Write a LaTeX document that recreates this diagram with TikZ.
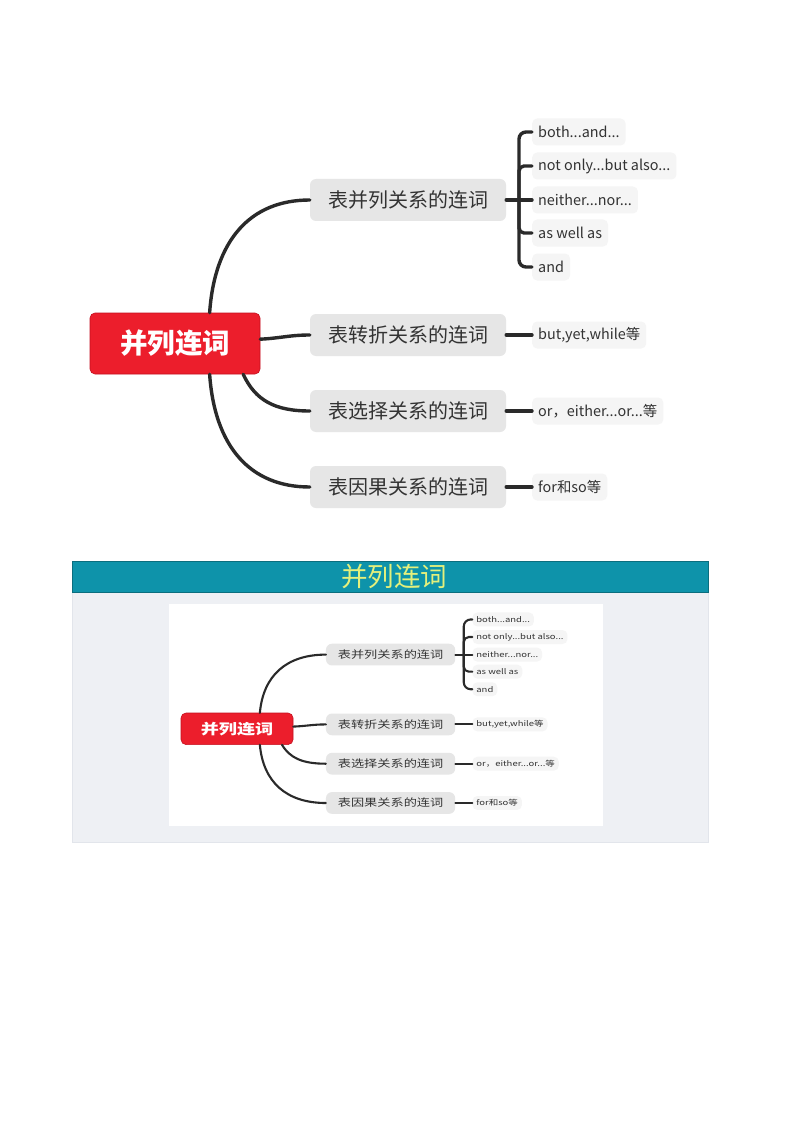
\documentclass[tikz,border=0pt]{standalone}
\usepackage{fontspec}
\setmainfont{Noto Sans CJK SC}
\newfontfamily\cjk{Noto Sans CJK SC}
\usetikzlibrary{calc}
\definecolor{rootred}{HTML}{EC1E2C}
\definecolor{rootedge}{HTML}{C41020}
\definecolor{midgray}{HTML}{E6E6E6}
\definecolor{leafgray}{HTML}{F5F5F5}
\definecolor{linecol}{HTML}{2A2A2A}
\definecolor{txtcol}{HTML}{333333}
\definecolor{headteal}{HTML}{0E93AA}
\definecolor{headedge}{HTML}{0B6E7E}
\definecolor{headtxt}{HTML}{E4F07C}
\definecolor{panelgray}{HTML}{EEF0F4}
\definecolor{paneledge}{HTML}{E2E5EB}
\tikzset{
  rootbox/.style={fill=rootred, draw=rootedge, line width=0.6pt, rounded corners=5pt,
    minimum width=170pt, minimum height=61pt, inner sep=0pt, text=white,
    font=\cjk\bfseries\fontsize{27.5}{30}\selectfont},
  midbox/.style={fill=midgray, rounded corners=6pt, minimum width=196pt, minimum height=42pt,
    inner sep=0pt, text=txtcol, font=\cjk\fontsize{20}{22}\selectfont},
  leafbox/.style={fill=leafgray, rounded corners=5pt, minimum height=27pt, inner xsep=6pt,
    inner ysep=0pt, anchor=west, text=txtcol, font=\cjk\fontsize{14.4}{16}\selectfont},
  conn/.style={draw=linecol, line cap=round},
}
\newcommand\mymap[2]{%
  \node[rootbox] (#1root) at (175,343.5) {并列连词};
  \node[midbox] (#1m1) at (408,200) {表并列关系的连词};
  \node[midbox] (#1m2) at (408,335) {表转折关系的连词};
  \node[midbox] (#1m3) at (408,411) {表选择关系的连词};
  \node[midbox] (#1m4) at (408,487) {表因果关系的连词};
  \node[leafbox] (#1l1) at (532,132) {both...and...};
  \node[leafbox] (#1l2) at (532,166) {not only...but also...};
  \node[leafbox] (#1l3) at (532,200) {neither...nor...};
  \node[leafbox] (#1l4) at (532,233) {as well as};
  \node[leafbox] (#1l5) at (532,267) {and};
  \node[leafbox] (#1l6) at (532,335) {but,yet,while等};
  \node[leafbox] (#1l7) at (532,411) {or，either...or...等};
  \node[leafbox] (#1l8) at (532,487) {for和so等};
  \coordinate (#1br) at (519,200);
  \coordinate (#1rt) at ($(#1root.north west)!0.703!(#1root.north east)$);
  \coordinate (#1rb) at ($(#1root.south west)!0.703!(#1root.south east)$);
  \coordinate (#1rc) at ($(#1root.south west)!0.9!(#1root.south east)$);
  \coordinate (#1re) at ($(#1root.north east)!0.43!(#1root.south east)$);
  \begin{scope}[conn, line width=#2]
    \draw (#1rt) .. controls +(5,-72) and +(-60,0) .. (#1m1.west);
    \draw (#1re) .. controls +(20,-1) and +(-20,0) .. (#1m2.west);
    \draw (#1rc) .. controls +(12,26) and +(-35,0) .. (#1m3.west);
    \draw (#1rb) .. controls +(5,72) and +(-60,0) .. (#1m4.west);
    \draw (#1m1.east) -- (#1br);
    \draw[rounded corners=7pt] (#1br) |- (#1l1.west);
    \draw[rounded corners=5pt] (#1br) |- (#1l2.west);
    \draw (#1br) -- (#1l3.west);
    \draw[rounded corners=5pt] (#1br) |- (#1l4.west);
    \draw[rounded corners=7pt] (#1br) |- (#1l5.west);
    \draw (#1m2.east) -- (#1l6.west);
    \draw (#1m3.east) -- (#1l7.west);
    \draw (#1m4.east) -- (#1l8.west);
  \end{scope}
}
\begin{document}
\begin{tikzpicture}[x=1pt,y=-1pt]
  \useasboundingbox (0,0) rectangle (794,1123);
  \fill[white] (0,0) rectangle (794,1123);
  % upper mind map
  \mymap{a}{3.4pt}
  % lower panel
  \node[fill=panelgray, draw=paneledge, line width=0.5pt, anchor=north west,
        minimum width=636pt, minimum height=250pt, inner sep=0pt] (panel) at (72,592) {};
  \node[fill=headteal, draw=headedge, line width=0.8pt, anchor=north west,
        minimum width=636pt, minimum height=31pt, inner sep=0pt] (head) at (72,561) {};
  \node[text=headtxt, font=\cjk\fontsize{26.5}{28}\selectfont, inner sep=0pt]
        (headtext) at ($(head.center)+(4,0)$) {并列连词};
  \node[fill=white, anchor=north west, minimum width=434pt, minimum height=222pt,
        inner sep=0pt] (pic) at (169,604) {};
  \begin{scope}[shift={(121.7,551.2)}, xscale=0.659, yscale=0.517, transform shape]
    \mymap{b}{2.1pt}
  \end{scope}
\end{tikzpicture}
\end{document}
